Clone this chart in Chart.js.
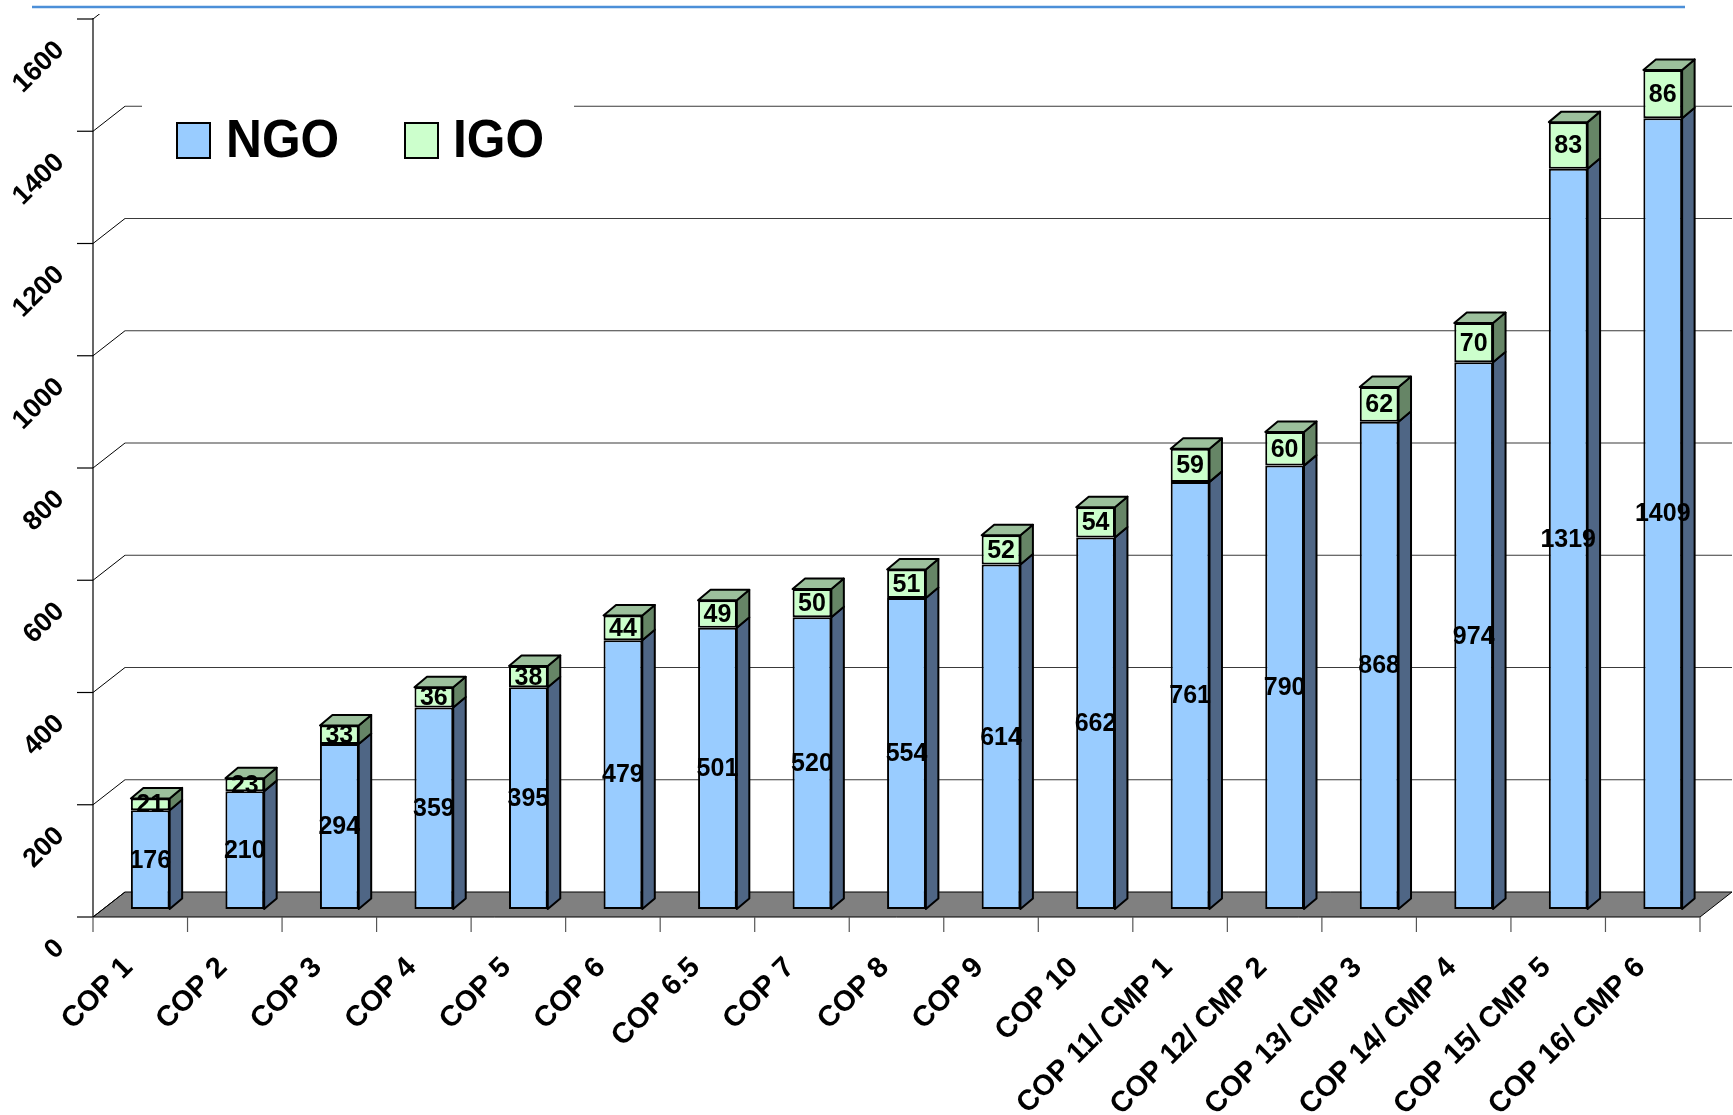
<!DOCTYPE html>
<html>
<head>
<meta charset="utf-8">
<script src="https://cdn.jsdelivr.net/npm/chart.js@4.4.1/dist/chart.umd.min.js"></script>
<style>
  html, body { margin: 0; padding: 0; background: #fff; }
  #wrap { width: 1733px; height: 1115px; position: relative; }
</style>
</head>
<body>
<div id="wrap"><canvas id="copChart"></canvas></div>
<script>
const sessions = ['COP 1', 'COP 2', 'COP 3', 'COP 4', 'COP 5', 'COP 6', 'COP 6.5', 'COP 7', 'COP 8', 'COP 9',
    'COP 10', 'COP 11/ CMP 1', 'COP 12/ CMP 2', 'COP 13/ CMP 3', 'COP 14/ CMP 4', 'COP 15/ CMP 5', 'COP 16/ CMP 6'];
const ngoCounts = [176, 210, 294, 359, 395, 479, 501, 520, 554, 614, 662, 761, 790, 868, 974, 1319, 1409];
const igoCounts = [21, 23, 33, 36, 38, 44, 49, 50, 51, 52, 54, 59, 60, 62, 70, 83, 86];
const yMin = 0, yMax = 1600, yStep = 200;

// fake 3d: offsets of the back wall, bar front plane and bar thickness
const WALL = {x: 32, y: -25};
const BAR = {x: 10, y: -8};
const SIDE = {x: 12.5, y: -10.5};

const FONT = '"Liberation Sans", Arial, sans-serif';
const faceColors = {
    NGO: {front: '#99CCFF', side: '#4F6685', top: '#7A9CC4'},
    IGO: {front: '#CCFFCC', side: '#668566', top: '#9CC09C'}
};

function poly(ctx, pts, fill, stroke, lw) {
    ctx.beginPath();
    ctx.moveTo(pts[0][0], pts[0][1]);
    for (let i = 1; i < pts.length; i++) ctx.lineTo(pts[i][0], pts[i][1]);
    ctx.closePath();
    if (fill) { ctx.fillStyle = fill; ctx.fill(); }
    if (stroke) { ctx.strokeStyle = stroke; ctx.lineWidth = lw || 1; ctx.stroke(); }
}

function line(ctx, x1, y1, x2, y2, color, lw) {
    ctx.beginPath();
    ctx.moveTo(x1, y1);
    ctx.lineTo(x2, y2);
    ctx.strokeStyle = color;
    ctx.lineWidth = lw || 1;
    ctx.stroke();
}

const scene3d = {
    id: 'scene3d',
    beforeDraw(chart) {
        const ctx = chart.ctx;
        ctx.save();
        ctx.fillStyle = '#fff';
        ctx.fillRect(0, 0, chart.width, chart.height);
        line(ctx, 32, 7, 1685, 7, '#4C8FD8', 2.5);
        ctx.restore();
    },
    beforeDatasetsDraw(chart) {
        const ctx = chart.ctx;
        const xs = chart.scales.x, ys = chart.scales.y;
        const area = chart.chartArea;
        const y0 = ys.getPixelForValue(0);
        ctx.save();

        // floor
        poly(ctx, [[area.left, y0], [area.right, y0], [area.right + WALL.x, y0 + WALL.y], [area.left + WALL.x, y0 + WALL.y]],
            '#808080', '#000', 1);

        // back wall grid + side diagonals
        ctx.save();
        ctx.beginPath();
        ctx.rect(0, 14, chart.width, chart.height);
        ctx.clip();
        ys.ticks.forEach(t => {
            const py = ys.getPixelForValue(t.value);
            if (t.value > 0) line(ctx, area.left + WALL.x, py + WALL.y, area.right + WALL.x, py + WALL.y, '#3a3a3a', 1.2);
            line(ctx, area.left, py, area.left + WALL.x, py + WALL.y, '#000', 1);
        });
        ctx.restore();

        // y axis, ticks and labels
        line(ctx, area.left, y0, area.left, ys.getPixelForValue(yMax) - 1, '#000', 1.2);
        ctx.fillStyle = '#000';
        ctx.font = 'bold 27px ' + FONT;
        ctx.textAlign = 'right';
        ctx.textBaseline = 'middle';
        ys.ticks.forEach(t => {
            const py = ys.getPixelForValue(t.value);
            line(ctx, area.left - 16, py, area.left, py, '#000', 1.2);
            ctx.save();
            ctx.translate(area.left - 33, py + 27);
            ctx.rotate(-Math.PI / 4);
            ctx.fillText(String(t.value), 0, 0);
            ctx.restore();
        });

        // x axis ticks at category edges and rotated labels
        const step = (area.right - area.left) / sessions.length;
        for (let i = 0; i <= sessions.length; i++) {
            const px = area.left + i * step;
            line(ctx, px, y0, px, y0 + 15, '#555', 1.2);
        }
        ctx.font = 'bold 29px ' + FONT;
        sessions.forEach((s, i) => {
            const px = xs.getPixelForValue(i);
            ctx.save();
            ctx.translate(px - 12, y0 + 46);
            ctx.rotate(-Math.PI / 4);
            ctx.fillText(s, 0, 0);
            ctx.restore();
        });
        ctx.restore();

        // move bars onto their own plane
        ctx.save();
        ctx.translate(BAR.x, BAR.y);
    },
    afterDatasetsDraw(chart) {
        const ctx = chart.ctx;
        ctx.restore();
        ctx.save();
        const last = chart.data.datasets.length - 1;
        chart.data.datasets.forEach((ds, di) => {
            const col = faceColors[ds.label];
            chart.getDatasetMeta(di).data.forEach(el => {
                const p = el.getProps(['x', 'y', 'base', 'width'], true);
                const l = p.x - p.width / 2 + BAR.x, r = p.x + p.width / 2 + BAR.x;
                const top = p.y + BAR.y, bot = p.base + BAR.y;
                ctx.lineJoin = 'round';
                poly(ctx, [[r, bot], [r, top], [r + SIDE.x, top + SIDE.y], [r + SIDE.x, bot + SIDE.y]], col.side, '#000', 2);
                if (di === last) {
                    poly(ctx, [[l, top], [r, top], [r + SIDE.x, top + SIDE.y], [l + SIDE.x, top + SIDE.y]], col.top, '#000', 2);
                }
            });
        });

        // value labels in the middle of each segment
        ctx.fillStyle = '#000';
        ctx.font = 'bold 25px ' + FONT;
        ctx.textAlign = 'center';
        ctx.textBaseline = 'middle';
        chart.data.datasets.forEach((ds, di) => {
            chart.getDatasetMeta(di).data.forEach((el, i) => {
                const p = el.getProps(['x', 'y', 'base'], true);
                ctx.fillText(String(ds.data[i]), p.x + BAR.x, (p.y + p.base) / 2 + BAR.y + 1);
            });
        });
        ctx.restore();
    },
    afterDraw(chart) {
        const ctx = chart.ctx;
        ctx.save();
        // legend sits on a white box over the back grid
        ctx.fillStyle = '#fff';
        ctx.fillRect(142, 84, 432, 92);
        const items = [{x: 177, textX: 226}, {x: 405, textX: 453}];
        chart.data.datasets.forEach((ds, i) => {
            const it = items[i];
            ctx.fillStyle = ds.backgroundColor;
            ctx.fillRect(it.x, 123, 33, 35);
            ctx.strokeStyle = '#000';
            ctx.lineWidth = 2;
            ctx.strokeRect(it.x, 123, 33, 35);
            ctx.save();
            ctx.translate(it.textX, 157);
            ctx.scale(0.92, 1);
            ctx.fillStyle = '#000';
            ctx.font = 'bold 54px ' + FONT;
            ctx.textAlign = 'left';
            ctx.textBaseline = 'alphabetic';
            ctx.fillText(ds.label, 0, 0);
            ctx.restore();
        });
        ctx.restore();
    }
};

window.addEventListener('load', function() {
    const ctx = document.getElementById('copChart').getContext('2d');
    window.copChart = new Chart(ctx, {
        type: 'bar',
        data: {
            labels: sessions,
            datasets: [{
                label: 'NGO',
                data: ngoCounts,
                backgroundColor: faceColors.NGO.front,
                borderColor: '#000',
                borderWidth: 2,
                borderSkipped: false
            }, {
                label: 'IGO',
                data: igoCounts,
                backgroundColor: faceColors.IGO.front,
                borderColor: '#000',
                borderWidth: 2,
                borderSkipped: false
            }]
        },
        options: {
            responsive: true,
            maintainAspectRatio: false,
            animation: false,
            layout: {padding: {left: 93, right: 33, top: 19, bottom: 198}},
            datasets: {bar: {barPercentage: 0.41, categoryPercentage: 1, clip: false}},
            plugins: {legend: {display: false}, tooltip: {enabled: false}},
            scales: {
                x: {stacked: true, display: false},
                y: {stacked: true, display: false, min: yMin, max: yMax, ticks: {stepSize: yStep}}
            }
        },
        plugins: [scene3d]
    });
});
</script>
</body>
</html>
